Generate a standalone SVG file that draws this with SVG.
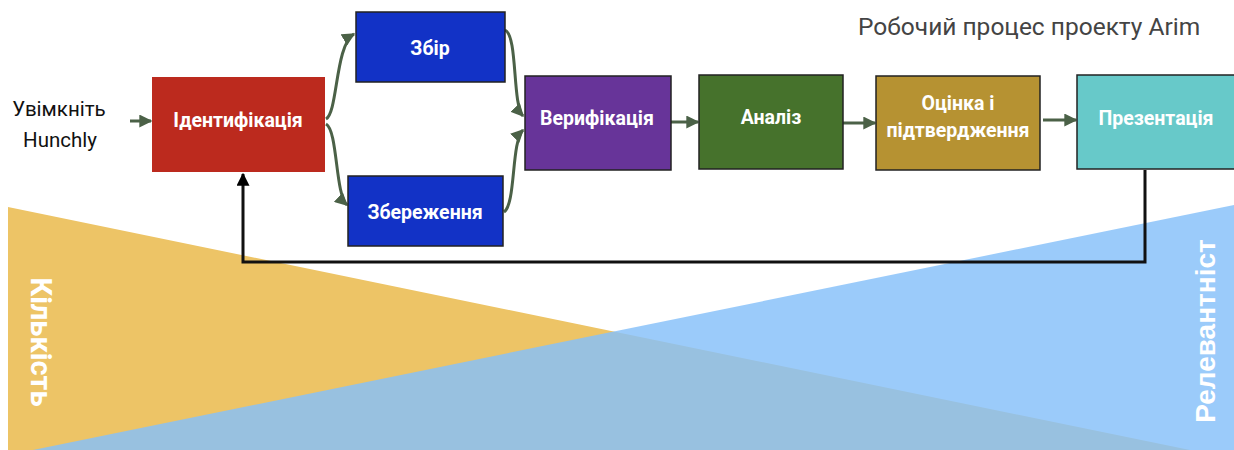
<svg xmlns="http://www.w3.org/2000/svg" width="1234" height="450" viewBox="0 0 1234 450">
<defs>
<style>
.box{stroke:#222;stroke-width:1.5}
.lbl{font-family:Roboto,"Noto Sans",sans-serif;font-weight:bold;fill:#fff;text-anchor:middle;font-size:19.5px}
.con{fill:none;stroke:#4B6147;stroke-width:3}
.side{font-weight:bold;fill:#fff;text-anchor:middle}
</style>
<marker id="ah" viewBox="0 0 10 10" refX="9" refY="5" markerUnits="userSpaceOnUse" markerWidth="13" markerHeight="13" orient="auto">
<path d="M0,0 L10,5 L0,10 z" fill="#4B6147"/>
</marker>
<marker id="ahk" viewBox="0 0 10 10" refX="9" refY="5" markerUnits="userSpaceOnUse" markerWidth="13" markerHeight="13" orient="auto">
<path d="M0,0 L10,5 L0,10 z" fill="#000"/>
</marker>
</defs>
<rect width="1234" height="450" fill="#fff"/>
<g id="background">
<polygon points="8,207 1190,450 8,450" fill="#EDC466"/>
<polygon points="1234,205 1234,450 33,450" fill="#87C1F9" fill-opacity="0.83"/>
<text class="side" font-family="Roboto,'Noto Sans',sans-serif" font-size="29" transform="translate(31,342) rotate(90)">Кількість</text>
<text class="side" font-family="'Liberation Sans',Arial,sans-serif" font-size="28" transform="translate(1215,331) rotate(-90)">Релевантніст</text>
</g>
<g id="connectors">
<line class="con" x1="130" y1="121" x2="151" y2="121" marker-end="url(#ah)"/>
<path class="con" d="M326,119 C338,112 335,45 354,34" marker-end="url(#ah)"/>
<path class="con" d="M326,124 C338,131 335,194 347,205" marker-end="url(#ah)"/>
<path class="con" d="M505,30 C518,36 512,104 523,116" marker-end="url(#ah)"/>
<path class="con" d="M504,212 C516,204 511,142 523,130" marker-end="url(#ah)"/>
<line class="con" x1="671" y1="122" x2="698" y2="122" marker-end="url(#ah)"/>
<line class="con" x1="843" y1="123" x2="875" y2="123" marker-end="url(#ah)"/>
<line class="con" x1="1043" y1="120" x2="1076" y2="120" marker-end="url(#ah)"/>
<polyline points="1145,170 1145,262 243,262 243,174" fill="none" stroke="#111" stroke-width="3" marker-end="url(#ahk)"/>
</g>
<g id="start">
<text font-family="Roboto,'Noto Sans',sans-serif" font-size="20.5" fill="#111" text-anchor="middle"><tspan x="59" y="116">Увімкніть</tspan><tspan x="60" y="147">Hunchly</tspan></text>
</g>
<g id="title">
<text x="858" y="35" font-family="Roboto,'Noto Sans',sans-serif" font-size="24.5" fill="#444">Робочий процес проекту Arim</text>
</g>
<g id="identification">
<rect x="152" y="77" width="173" height="95" fill="#BC2A1E"/>
<text class="lbl" x="238" y="127">Ідентифікація</text>
</g>
<g id="collection">
<rect class="box" x="356" y="12" width="149" height="70" fill="#1232C6"/>
<text class="lbl" x="430" y="55">Збір</text>
</g>
<g id="storage">
<rect class="box" x="348" y="176" width="155" height="70" fill="#1232C6"/>
<text class="lbl" x="425" y="219">Збереження</text>
</g>
<g id="verification">
<rect class="box" x="525" y="76" width="146" height="94" fill="#673499"/>
<text class="lbl" x="597" y="125">Верифікація</text>
</g>
<g id="analysis">
<rect class="box" x="699" y="75" width="144" height="94" fill="#46722C"/>
<text class="lbl" x="771" y="124" font-size="24">Аналіз</text>
</g>
<g id="evaluation">
<rect class="box" x="876" y="76" width="164" height="94" fill="#B69232"/>
<text class="lbl"><tspan x="958" y="110">Оцінка і</tspan><tspan x="958" y="137">підтвердження</tspan></text>
</g>
<g id="presentation">
<rect class="box" x="1077" y="75" width="170" height="94" fill="#67C9C9"/>
<text class="lbl" x="1156" y="125">Презентація</text>
</g>
</svg>
